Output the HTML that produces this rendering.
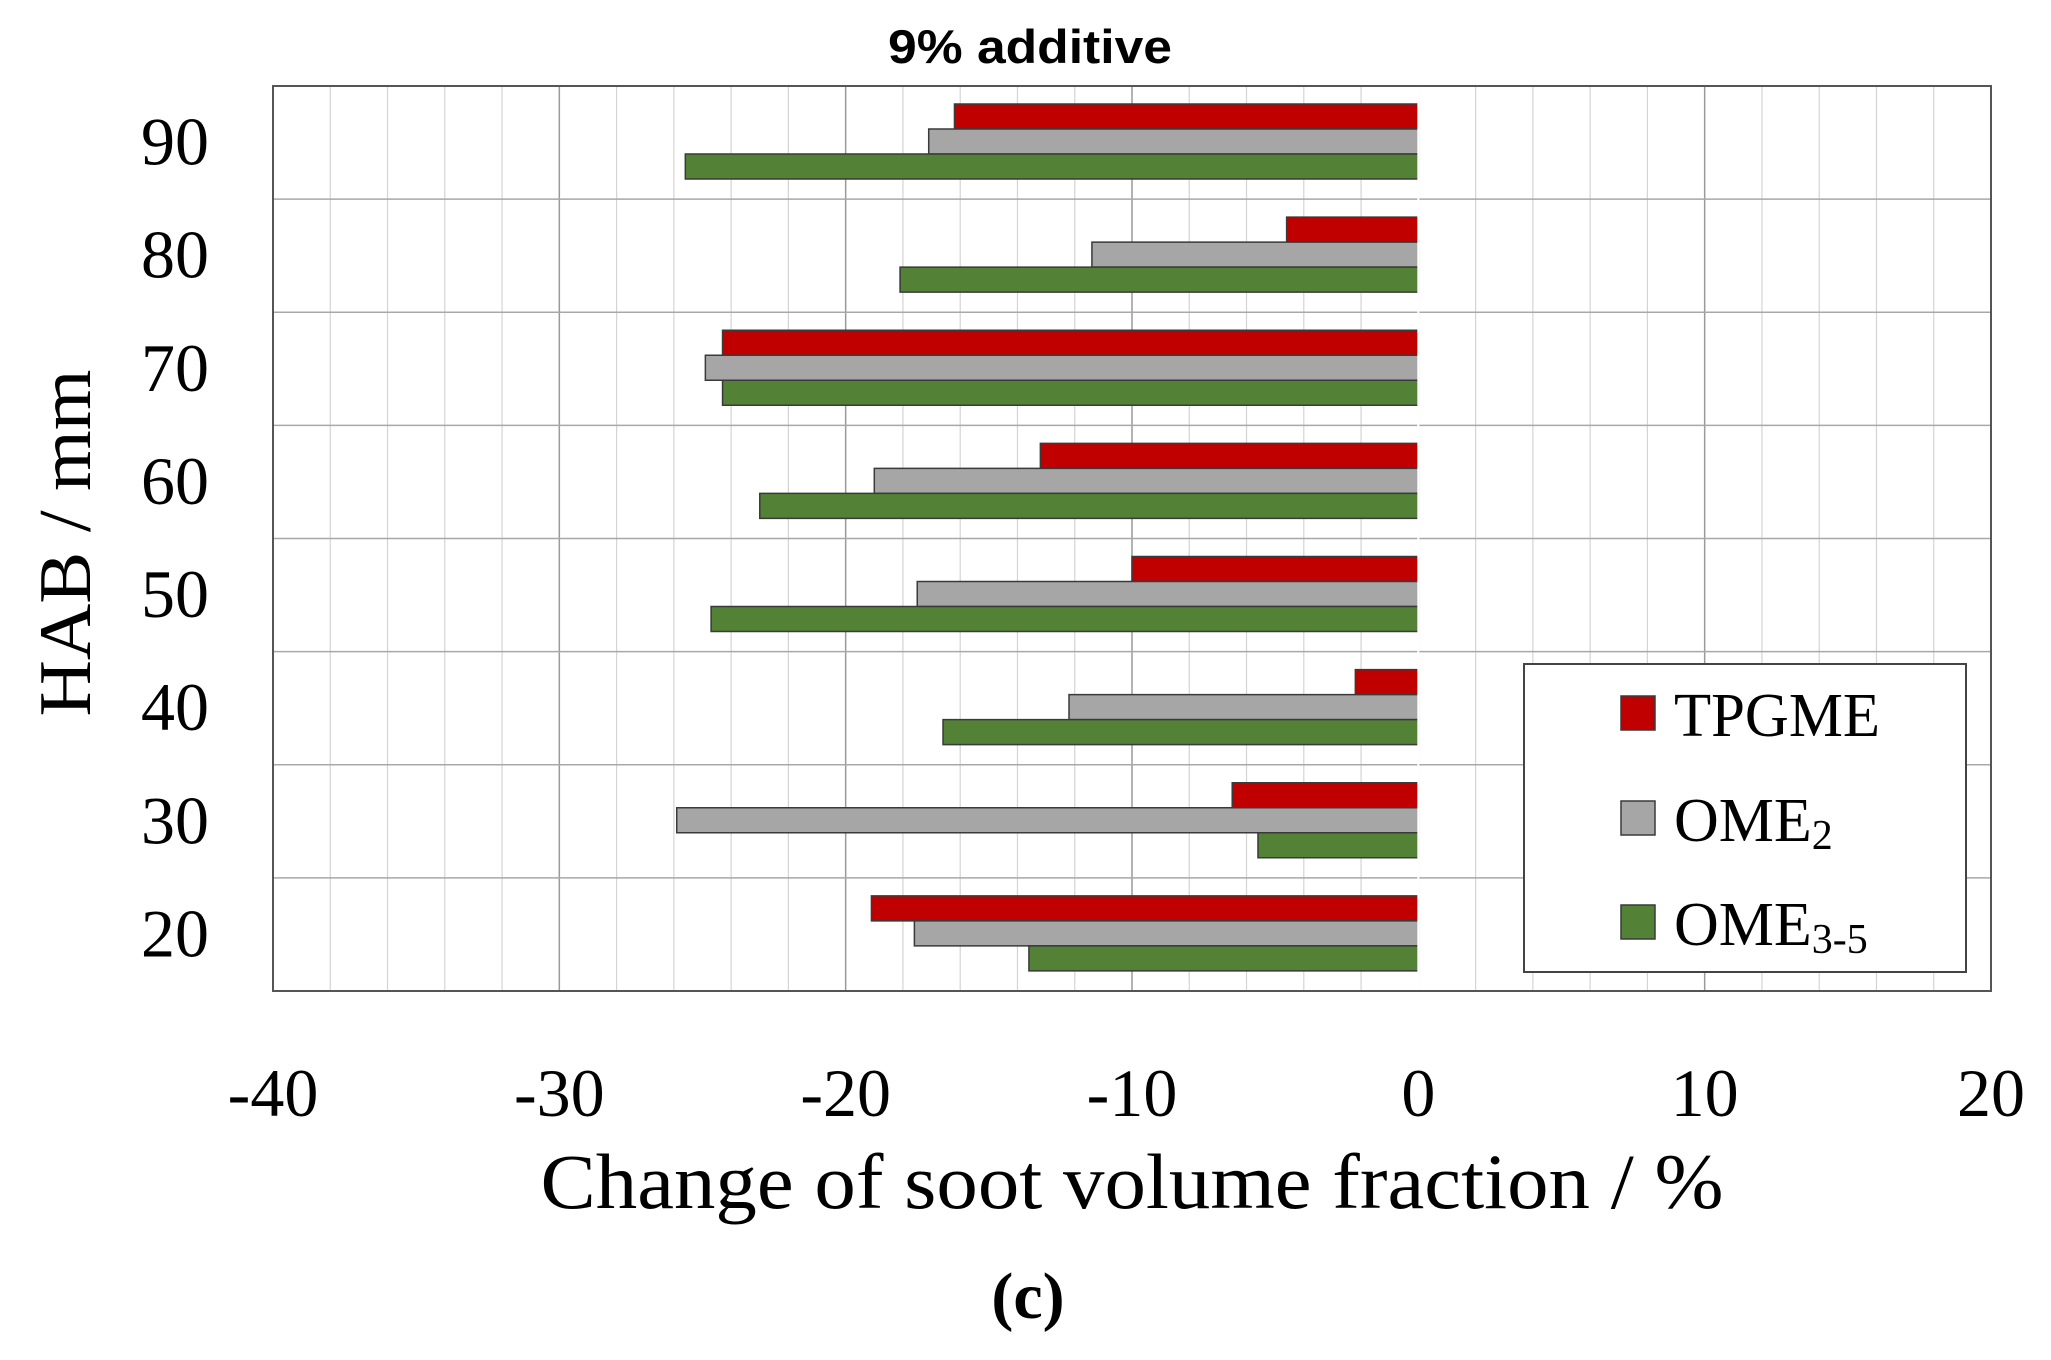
<!DOCTYPE html>
<html><head><meta charset="utf-8"><style>
html,body{margin:0;padding:0;background:#fff;}
svg{display:block;}
</style></head><body>
<svg id="chart" width="2051" height="1360" xmlns="http://www.w3.org/2000/svg"></svg>
<script>
const categories = [90, 80, 70, 60, 50, 40, 30, 20];
const tpgme = [-16.2, -4.6, -24.3, -13.2, -10.0, -2.2, -6.5, -19.1];
const ome2 = [-17.1, -11.4, -24.9, -19.0, -17.5, -12.2, -25.9, -17.6];
const ome35 = [-25.6, -18.1, -24.3, -23.0, -24.7, -16.6, -5.6, -13.6];
const xTicks = [-40, -30, -20, -10, 0, 10, 20];
const seriesNames = ["TPGME", "OME2", "OME3-5"];

const NS = "http://www.w3.org/2000/svg";
const svg = document.getElementById("chart");
const L = 273, R = 1991, T = 86, B = 991;
const xMin = -40, xMax = 20;
const xs = v => L + (v - xMin) / (xMax - xMin) * (R - L);
const rowH = (B - T) / categories.length;
const serif = '"Liberation Serif", "DejaVu Serif", serif';
function mk(tag, attrs, parent) {
  const e = document.createElementNS(NS, tag);
  for (const k in attrs) e.setAttribute(k, attrs[k]);
  (parent || svg).appendChild(e);
  return e;
}
const bg = mk("rect", {x: L, y: T, width: R - L, height: B - T, fill: "#fff"});


for (let v = xMin; v <= xMax; v += 2) {
  const major = v % 10 === 0;
  const g = mk("line", {x1: xs(v), x2: xs(v), y1: T, y2: B, stroke: major ? "#9a9a9a" : "#d4d4d4", "stroke-width": major ? 1.5 : 1.2});
  
  
}
for (let i = 1; i < categories.length; i++) {
  const y = T + i * rowH;
  const g = mk("line", {x1: L, x2: R, y1: y, y2: y, stroke: "#a8a8a8", "stroke-width": 1.5});
  
  
}
const series = [tpgme, ome2, ome35];
const colors = ["#c00000", "#a6a6a6", "#538135"];
const barH = 25, offs = 18;
categories.forEach((c, i) => {
  series.forEach((s, j) => {
    const v = s[i];
    const x0 = xs(Math.min(0, v)), x1 = xs(Math.max(0, v));
    const b = mk("rect", {x: x0, y: T + i * rowH + offs + j * barH, width: x1 - x0, height: barH, fill: colors[j], stroke: "#3a3a3a", "stroke-width": 1.5});
    
    
  });
  const t = mk("text", {x: 175, y: T + (i + 0.5) * rowH + 22, "font-family": serif, "font-size": 68, "text-anchor": "middle", fill: "#000"});
  t.textContent = c;
  
  
});
const z = mk("line", {x1: xs(0), x2: xs(0), y1: T, y2: B, stroke: "#fff", "stroke-width": 2});


const fr = mk("rect", {x: L, y: T, width: R - L, height: B - T, fill: "none", stroke: "#555", "stroke-width": 2});


xTicks.forEach(v => {
  const t = mk("text", {x: xs(v), y: 1116, "font-family": serif, "font-size": 68, "text-anchor": "middle", fill: "#000"});
  t.textContent = v;
  
  
});
</script>
<div style="position:absolute;left:0;top:0;width:2051px;height:1360px;pointer-events:none;">
<svg width="2051" height="1360" xmlns="http://www.w3.org/2000/svg" style="position:absolute;left:0;top:0">
  <text x="1030" y="63" font-family="Liberation Sans, sans-serif" font-size="47" font-weight="bold" text-anchor="middle" textLength="284" lengthAdjust="spacingAndGlyphs">9% additive</text>
  <text x="1132" y="1208" font-family="Liberation Serif, serif" font-size="78" text-anchor="middle" textLength="1183" lengthAdjust="spacingAndGlyphs">Change of soot volume fraction / %</text>
  <text transform="translate(90,543) rotate(-90)" font-family="Liberation Serif, serif" font-size="74" text-anchor="middle" textLength="347" lengthAdjust="spacingAndGlyphs">HAB / mm</text>
  <text x="1028" y="1318" font-family="Liberation Serif, serif" font-size="66" font-weight="bold" text-anchor="middle">(c)</text>
  <g>
    <rect x="1524" y="664" width="442" height="308" fill="#fff" stroke="#444" stroke-width="2"/>
    <g>
      <rect x="1621" y="696" width="34" height="34" fill="#c00000" stroke="#3a3a3a" stroke-width="1.5"/>
      <text x="1674" y="736" font-family="Liberation Serif, serif" font-size="62" textLength="206" lengthAdjust="spacingAndGlyphs">TPGME</text>
    </g>
    <g>
      <rect x="1621" y="801" width="34" height="34" fill="#a6a6a6" stroke="#3a3a3a" stroke-width="1.5"/>
      <text x="1674" y="841" font-family="Liberation Serif, serif" font-size="62">OME<tspan font-size="42" dy="8">2</tspan></text>
    </g>
    <g>
      <rect x="1621" y="905" width="34" height="34" fill="#538135" stroke="#3a3a3a" stroke-width="1.5"/>
      <text x="1674" y="945" font-family="Liberation Serif, serif" font-size="62">OME<tspan font-size="42" dy="8">3-5</tspan></text>
    </g>
  </g>
</svg>
</div>
</body></html>
